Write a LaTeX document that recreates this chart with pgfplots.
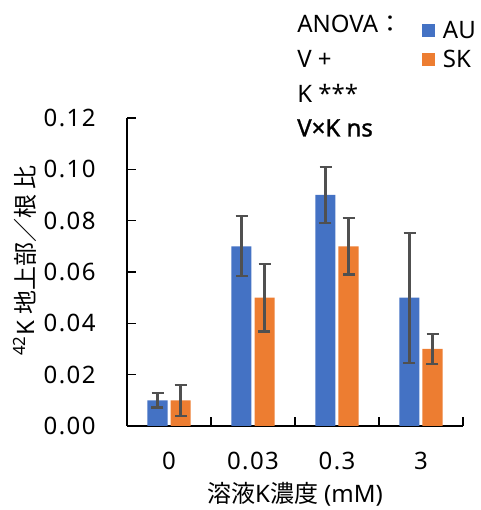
\documentclass[border=0pt]{standalone}
\usepackage{pgfplots}
\pgfplotsset{compat=1.18}
\usepackage{pgfplotstable}
\usepackage{fontspec}
\setmainfont{Noto Sans}
\newfontfamily\cjk{Noto Sans CJK JP}
\newfontfamily\numfont[LetterSpace=6]{Noto Sans}
\definecolor{aublue}{HTML}{4472C4}
\definecolor{skorange}{HTML}{ED7D31}
\definecolor{errgray}{HTML}{505050}
\pgfplotstableread{
x AU AUerr SK SKerr
0 0.01 0.0028 0.01 0.006
1 0.07 0.0117 0.05 0.0132
2 0.09 0.011 0.07 0.011
3 0.05 0.0253 0.03 0.006
}\datatable
\begin{document}
\begin{tikzpicture}
\useasboundingbox (0,0) rectangle (360pt,382.5pt);
\begin{axis}[
  at={(95.25pt,63pt)}, anchor=south west,
  scale only axis, width=252pt, height=231pt,
  ybar=2.25pt, bar width=15pt,
  xmin=-0.5, xmax=3.5, ymin=0, ymax=0.12,
  axis x line=bottom, axis y line=left,
  axis line style={-, line width=1.2pt, black},
  tick align=inside,
  ytick={0,0.02,0.04,0.06,0.08,0.1,0.12},
  yticklabel style={/pgf/number format/fixed, /pgf/number format/precision=2, /pgf/number format/fixed zerofill, font=\numfont\fontsize{18}{21}\selectfont, xshift=-20pt},
  /pgf/number format/assume math mode=true,
  ytick style={line width=1.2pt, black}, major tick length=7pt,
  xtick={0.5,1.5,2.5,3.5}, xticklabels={},
  xtick style={line width=1.2pt, black},
  extra x ticks={0,1,2,3},
  extra x tick labels={0,0.03,0.3,3},
  extra x tick style={major tick length=0pt, xticklabel style={font=\numfont\fontsize{18}{21}\selectfont, yshift=-16pt}},
  xlabel={{\cjk 溶液}K{\cjk 濃度} (mM)},
  xlabel style={font=\fontsize{18}{21}\selectfont, at={(axis description cs:0.5,-0.222)}, anchor=center},
  ylabel={\textsuperscript{42}K {\cjk 地上部／根 比}},
  ylabel style={font=\fontsize{18}{21}\selectfont, at={(axis description cs:-0.304,0.537)}, anchor=center},
  error bars/y dir=both, error bars/y explicit,
  error bars/error bar style={line width=1.6pt, draw=errgray},
  error bars/error mark options={rotate=90, mark size=4.5pt, line width=1.6pt, draw=errgray},
  legend style={draw=none, fill=none, at={(axis description cs:0.877,1.325)}, anchor=north west, font=\fontsize{18}{21}\selectfont, row sep=3.5pt, inner sep=0pt, /tikz/every odd column/.append style={column sep=4pt}},
  legend cell align=left,
  legend image code/.code={\fill[#1] (0pt,-4.9pt) rectangle (9.75pt,4.9pt);},
  clip=false,
]
\addplot[fill=aublue, draw=none] table[x=x, y=AU, y error=AUerr] {\datatable};
\addlegendentry{AU}
\addplot[fill=skorange, draw=none] table[x=x, y=SK, y error=SKerr] {\datatable};
\addlegendentry{SK}
\end{axis}
\node[anchor=west, font=\fontsize{18}{21}\selectfont, inner sep=0pt] at (222.75pt,364.5pt) {ANOVA{\cjk ：}};
\node[anchor=west, font=\fontsize{18}{21}\selectfont, inner sep=0pt] at (222.75pt,338.25pt) {V +};
\node[anchor=west, font=\fontsize{18}{21}\selectfont, inner sep=0pt] at (222.75pt,312.75pt) {K ***};
\node[anchor=west, font=\fontsize{18}{21}\selectfont\addfontfeatures{FakeBold=1.2}, inner sep=0pt] at (222.75pt,286.5pt) {V×K ns};
\end{tikzpicture}
\end{document}
